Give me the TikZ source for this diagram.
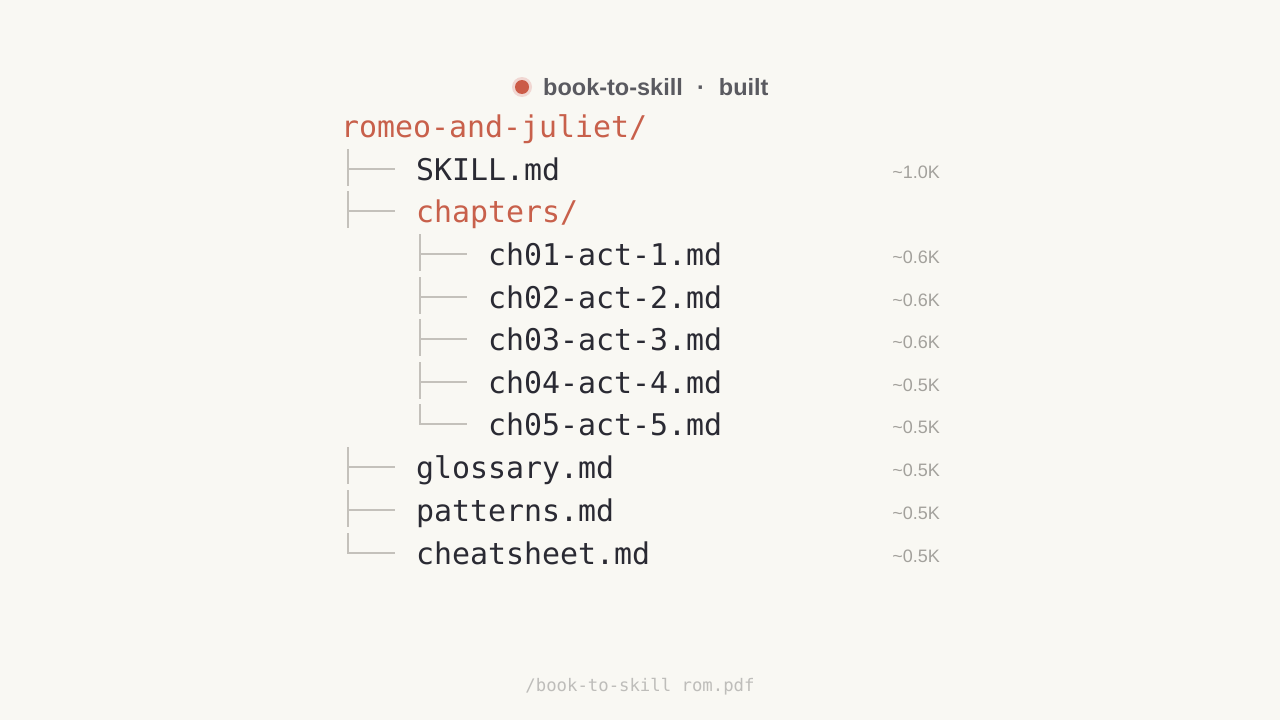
\documentclass[tikz,border=0pt]{standalone}
\usepackage{fontspec}
\setmainfont{Liberation Sans}
\setmonofont{DejaVu Sans Mono}
\usetikzlibrary{calc}
\definecolor{paper}{HTML}{F9F8F3}
\definecolor{rust}{HTML}{C8604B}
\definecolor{ink}{HTML}{2A2A33}
\definecolor{rule}{HTML}{C4C1BB}
\definecolor{muted}{HTML}{A3A19C}
\definecolor{head}{HTML}{5A5A60}
\newcommand{\approxk}[1]{\char"7E\relax#1K}

\begin{document}
\begin{tikzpicture}[x=1pt, y=-1pt,
    file/.style={anchor=base west, inner sep=0pt, font=\ttfamily\fontsize{29.9}{30}\selectfont, text=ink},
    dir/.style={file, text=rust},
    size/.style={anchor=base east, inner sep=0pt, font=\fontsize{18}{18}\selectfont, text=muted},
    branch/.style={draw=rule, line width=2pt}]
		\fill[paper] (0,0) rectangle (1280,720);
		\useasboundingbox (0,0) rectangle (1280,720);
		% header
		\fill[rust!25] (522,87) circle (10);
		\fill[rust!95!red] (522,87) circle (7);
		\node (title) [anchor=base west, inner sep=0pt, font=\bfseries\fontsize{23.5}{24}\selectfont, text=head] at (543,95) {book-to-skill\hspace{0.6em}·\hspace{0.6em}built};
		% tree
		\node (root) [dir] at (341,137) {romeo-and-juliet/};
		\node (skill) [file] at (416,180) {SKILL.md};
		\node (chap) [dir] at (416,222) {chapters/};
		\node (ch1) [file] at (488,265) {ch01-act-1.md};
		\node (ch2) [file] at (488,308) {ch02-act-2.md};
		\node (ch3) [file] at (488,350) {ch03-act-3.md};
		\node (ch4) [file] at (488,393) {ch04-act-4.md};
		\node (ch5) [file] at (488,435) {ch05-act-5.md};
		\node (gloss) [file] at (416,478) {glossary.md};
		\node (patt) [file] at (416,521) {patterns.md};
		\node (cheat) [file] at (416,564) {cheatsheet.md};
		% branches
		\foreach \f in {skill,chap,ch1,ch2,ch3,ch4,gloss,patt}
		  {\draw[branch] ($(\f.base west)+(-68,-31)$) -- ($(\f.base west)+(-68,6)$);
		   \draw[branch] ($(\f.base west)+(-68,-11)$) -- ($(\f.base west)+(-21,-11)$);}
		\foreach \f in {ch5,cheat}
		  \draw[branch] ($(\f.base west)+(-68,-31)$) |- ($(\f.base west)+(-21,-11)$);
		% sizes
		\node (s0) [size] at (940,178) {\approxk{1.0}};
		\node (s1) [size] at (940,263) {\approxk{0.6}};
		\node (s2) [size] at (940,306) {\approxk{0.6}};
		\node (s3) [size] at (940,348) {\approxk{0.6}};
		\node (s4) [size] at (940,391) {\approxk{0.5}};
		\node (s5) [size] at (940,433) {\approxk{0.5}};
		\node (s6) [size] at (940,476) {\approxk{0.5}};
		\node (s7) [size] at (940,519) {\approxk{0.5}};
		\node (s8) [size] at (940,562) {\approxk{0.5}};
		% footer
		\node (src) [font=\ttfamily\fontsize{17.3}{18}\selectfont, text=muted!70, inner sep=0pt] at (640,687) {/book-to-skill rom.pdf};
\end{tikzpicture}
\end{document}
